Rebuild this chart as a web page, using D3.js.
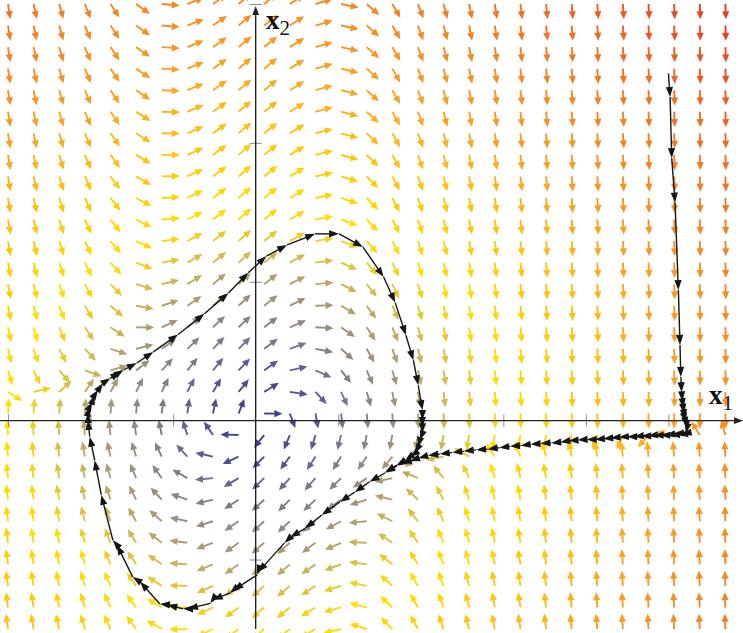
<!DOCTYPE html>
<html>
<head>
<meta charset="utf-8">
<script src="https://cdn.jsdelivr.net/npm/d3@7"></script>
<style>
  html, body { margin: 0; padding: 0; background: #fff; }
  svg { display: block; }
</style>
</head>
<body>
<svg id="chart" width="743" height="633"></svg>
<script>
// Van der Pol phase portrait: x1' = x2, x2' = mu (1 - x1^2) x2 - x1
var
  xDomain = [-3, 6],
  yDomain = [-3, 6],
  gridCount = 30,
  mu = 1,
  arrowLen = 0.22,
  xTicks = [-3, -2, -1, 1, 2, 3, 4, 5, 6],
  yTicks = [-2, 2, 4, 6];

// distance from origin -> arrow colour
var radiusStops = [0, 0.7, 1.0, 1.4, 1.7, 2.0, 2.3, 2.6, 3.0, 3.6, 4.3, 5.0, 5.8, 6.6, 7.4, 8.2];
var radiusColors = ['#3a3a8e', '#56558f', '#77708e', '#8e8683', '#9f927c', '#b0a26e', '#cdb950',
  '#e6cb2c', '#ffe000', '#ffd000', '#ffbd12', '#fba31f', '#f68f22', '#f27922', '#ee5d22', '#e83a22'];

// trajectory: fast drop, slow drift left, then the limit cycle
var approachPath = [
  [5.00, 5.00], [5.02, 4.66], [5.04, 3.78], [5.08, 3.14], [5.12, 1.88], [5.14, 1.09],
  [5.15, 0.63], [5.16, 0.41], [5.17, 0.28], [5.18, 0.18], [5.19, 0.10], [5.20, 0.02],
  [5.21, -0.03], [5.22, -0.09], [5.22, -0.13], [5.21, -0.18],
  [5.16, -0.19], [5.12, -0.19], [5.07, -0.20], [5.02, -0.20], [4.96, -0.21], [4.90, -0.21],
  [4.82, -0.21], [4.75, -0.22], [4.67, -0.22], [4.58, -0.23], [4.50, -0.23], [4.40, -0.24],
  [4.30, -0.25], [4.21, -0.26], [4.11, -0.27], [4.01, -0.27], [3.90, -0.28], [3.79, -0.29],
  [3.69, -0.31], [3.58, -0.32], [3.45, -0.33], [3.33, -0.34], [3.21, -0.36], [3.08, -0.37],
  [2.95, -0.39], [2.81, -0.41], [2.67, -0.42], [2.52, -0.44], [2.38, -0.46], [2.23, -0.48],
  [2.09, -0.50], [1.97, -0.54], [1.87, -0.58]
];

var cyclePath = [
  [1.77, -0.61], [1.71, -0.65], [1.57, -0.75], [1.38, -0.88], [1.20, -1.03], [1.02, -1.17],
  [0.80, -1.36], [0.60, -1.55], [0.42, -1.68], [0.35, -1.76], [0.03, -2.18], [0.02, -2.22],
  [-0.27, -2.44], [-0.31, -2.48], [-0.52, -2.58], [-0.55, -2.63], [-0.82, -2.71], [-0.88, -2.71],
  [-1.07, -2.65], [-1.16, -2.64], [-1.40, -2.32], [-1.49, -2.25], [-1.68, -1.79], [-1.73, -1.72],
  [-1.87, -1.07], [-1.95, -0.57], [-2.01, -0.23], [-2.03, 0.01], [-2.03, 0.11], [-2.01, 0.20],
  [-1.98, 0.27], [-1.95, 0.37], [-1.91, 0.44], [-1.85, 0.54], [-1.76, 0.61], [-1.64, 0.70],
  [-1.60, 0.73], [-1.44, 0.83], [-1.24, 0.99], [-0.94, 1.24], [-0.62, 1.54], [-0.33, 1.84],
  [-0.09, 2.13], [0.13, 2.37], [0.38, 2.53], [0.72, 2.69], [1.01, 2.69], [1.30, 2.50],
  [1.55, 2.07], [1.69, 1.70], [1.82, 1.23], [1.91, 0.87], [1.97, 0.51], [2.02, 0.15],
  [2.02, 0.01], [2.02, -0.09], [2.02, -0.18], [1.99, -0.28], [1.97, -0.38], [1.93, -0.47],
  [1.87, -0.52], [1.81, -0.57], [1.71, -0.64], [1.57, -0.74]
];

var
  svg = d3.select('#chart'),
  xScale = d3.scaleLinear().domain(xDomain).range([8, 751]),
  yScale = d3.scaleLinear().domain(yDomain).range([629, 4]),
  cScale = d3.scaleLinear().domain(radiusStops).range(radiusColors).clamp(true);

function field(a, b) {
  return [b, mu * (1 - a * a) * b - a];
}

// filled triangle with its tip at (tx,ty), pointing along (ux,uy)
function headPath(tx, ty, ux, uy, hl, hw) {
  var bx = tx - ux * hl, by = ty - uy * hl;
  return 'M' + tx + ',' + ty +
    'L' + (bx - uy * hw) + ',' + (by + ux * hw) +
    'L' + (bx + uy * hw) + ',' + (by - ux * hw) + 'Z';
}

function drawArrow(g, x0, y0, x1, y1, color, sw, hl, hw) {
  var dx = x1 - x0, dy = y1 - y0, len = Math.sqrt(dx * dx + dy * dy);
  if (len < 1e-6) return;
  var ux = dx / len, uy = dy / len, cut = Math.max(len - hl * 0.8, 0);
  g.append('line')
    .attr('x1', x0).attr('y1', y0)
    .attr('x2', x0 + ux * cut).attr('y2', y0 + uy * cut)
    .attr('stroke', color).attr('stroke-width', sw);
  g.append('path')
    .attr('d', headPath(x1, y1, ux, uy, hl, hw))
    .attr('fill', color);
}

// vector field
var
  gField = svg.append('g').attr('class', 'field'),
  gridX = d3.range(gridCount).map(i => xDomain[0] + i * (xDomain[1] - xDomain[0]) / (gridCount - 1)),
  gridY = d3.range(gridCount).map(j => yDomain[0] + j * (yDomain[1] - yDomain[0]) / (gridCount - 1));

gridX.forEach(function(a) {
  gridY.forEach(function(b) {
    var f = field(a, b), n = Math.sqrt(f[0] * f[0] + f[1] * f[1]);
    if (n === 0) return;
    var
      ea = a + arrowLen * f[0] / n,
      eb = b + arrowLen * f[1] / n,
      col = cScale(Math.sqrt(a * a + b * b));
    drawArrow(gField, xScale(a), yScale(b), xScale(ea), yScale(eb), col, 1.9, 8, 3.6);
  });
});

// axes
var gAxes = svg.append('g').attr('class', 'axes');

gAxes.append('g')
  .attr('class', 'axis axis--x')
  .attr('transform', 'translate(0,' + yScale(0) + ')')
  .call(d3.axisBottom(xScale).tickValues(xTicks).tickFormat('').tickSizeInner(6).tickSizeOuter(0))
  .call(g => g.select('.domain').remove())
  .call(g => g.selectAll('.tick line').attr('y1', -6).attr('y2', 6).attr('stroke', '#8a8a8a').attr('stroke-width', 1));

gAxes.append('g')
  .attr('class', 'axis axis--y')
  .attr('transform', 'translate(' + xScale(0) + ',0)')
  .call(d3.axisLeft(yScale).tickValues(yTicks).tickFormat('').tickSizeInner(6).tickSizeOuter(0))
  .call(g => g.select('.domain').remove())
  .call(g => g.selectAll('.tick line').attr('x1', -6).attr('x2', 6).attr('stroke', '#8a8a8a').attr('stroke-width', 1));

drawArrow(gAxes, xScale(-3) - 8, yScale(0), 743, yScale(0), '#222', 1.4, 9, 3.4);
drawArrow(gAxes, xScale(0), yScale(-3), xScale(0), 6, '#222', 1.4, 9, 3.4);

// trajectory
var
  gTraj = svg.append('g').attr('class', 'trajectory'),
  pts = approachPath.concat(cyclePath);

pts.forEach(function(p, i) {
  if (i === 0) return;
  var q = pts[i - 1];
  drawArrow(gTraj, xScale(q[0]), yScale(q[1]), xScale(p[0]), yScale(p[1]), '#151515', 1.4, 10, 3.6);
});

// axis labels
svg.append('text')
  .attr('x', 709).attr('y', 404)
  .attr('font-family', 'Liberation Serif, DejaVu Serif, serif')
  .attr('fill', '#111')
  .call(t => t.append('tspan').attr('font-size', 27).attr('font-weight', 'bold').text('x'))
  .call(t => t.append('tspan').attr('font-size', 21).attr('dy', 6).text('1'));

svg.append('text')
  .attr('x', 266).attr('y', 29)
  .attr('font-family', 'Liberation Serif, DejaVu Serif, serif')
  .attr('fill', '#111')
  .call(t => t.append('tspan').attr('font-size', 27).attr('font-weight', 'bold').text('x'))
  .call(t => t.append('tspan').attr('font-size', 21).attr('dy', 6).text('2'));
</script>
</body>
</html>
